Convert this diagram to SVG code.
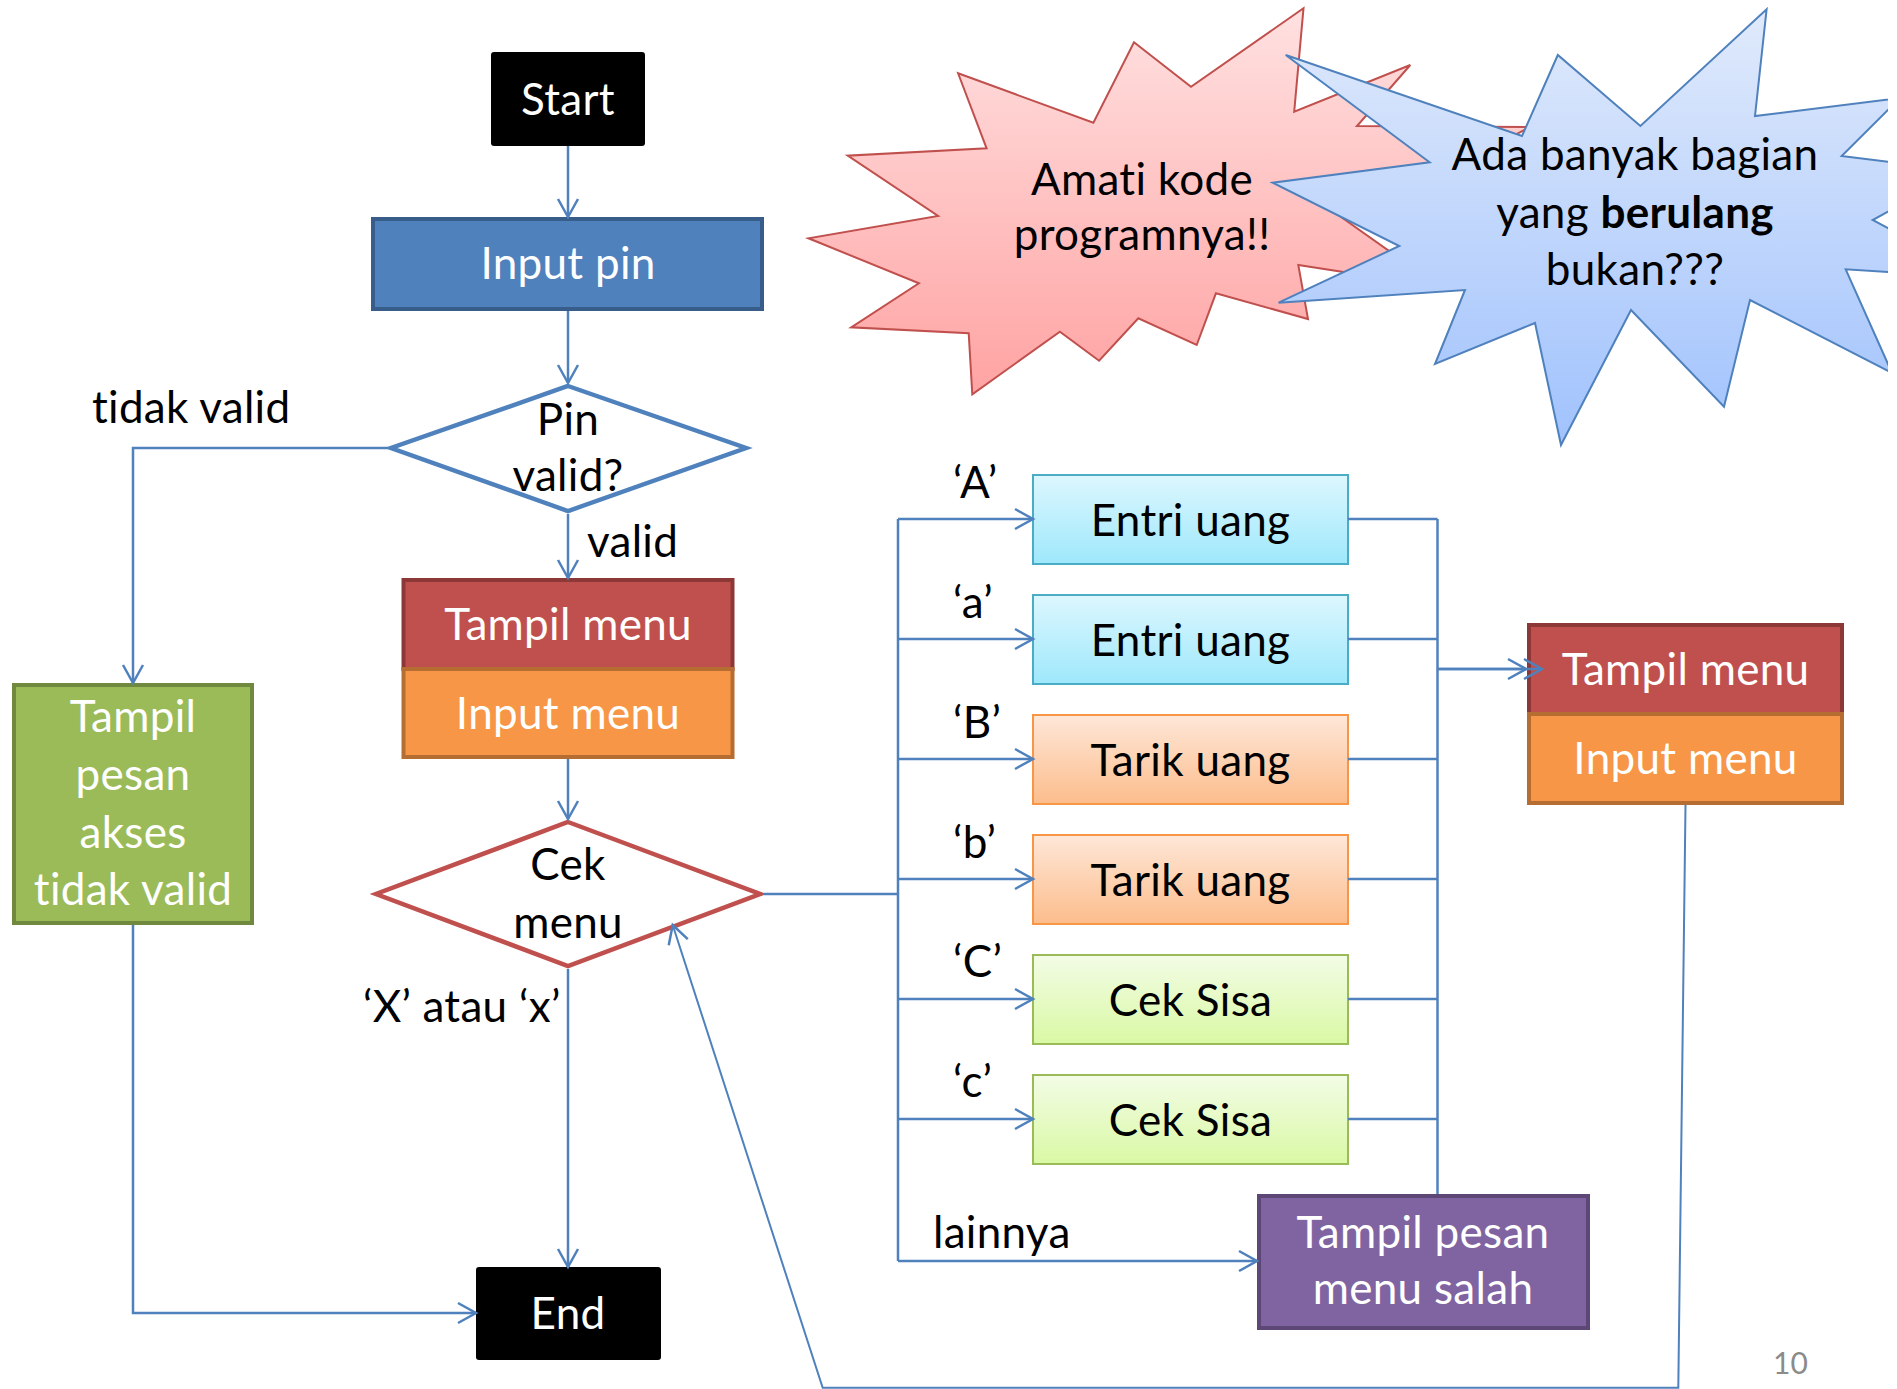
<svg xmlns="http://www.w3.org/2000/svg" width="1897" height="1389" viewBox="0 0 1897 1389">
<defs>
<style>
.t{font-family:Lato,"Liberation Sans",sans-serif;font-size:44px;letter-spacing:0.3px;text-anchor:middle;font-variant-ligatures:none}
.w{fill:#FFFFFF}
.k{fill:#000000}
.lbl{font-family:Lato,"Liberation Sans",sans-serif;font-size:44px;letter-spacing:0.3px;fill:#000000;font-variant-ligatures:none}
.c{fill:none;stroke:#4F81BD;stroke-width:2.5}
.c2{fill:none;stroke:#4F81BD;stroke-width:2}
.opt{stroke-width:2}
</style>
<marker id="arr" markerUnits="userSpaceOnUse" markerWidth="24" markerHeight="24" viewBox="-20 -12 24 24" refX="0" refY="0" orient="auto" overflow="visible">
<path d="M-18,-10 L0,0 L-18,10" fill="none" stroke="#4F81BD" stroke-width="2.5"/>
</marker>
<linearGradient id="gRed" x1="0" y1="0" x2="0" y2="1"><stop offset="0" stop-color="#FFE1E1"/><stop offset="1" stop-color="#FFA3A3"/></linearGradient>
<linearGradient id="gBlue" x1="0" y1="0" x2="0" y2="1"><stop offset="0" stop-color="#E0EAFB"/><stop offset="1" stop-color="#A0C2FD"/></linearGradient>
<linearGradient id="gCyan" x1="0" y1="0" x2="0" y2="1"><stop offset="0" stop-color="#DDF7FE"/><stop offset="1" stop-color="#9EE8FC"/></linearGradient>
<linearGradient id="gOrange" x1="0" y1="0" x2="0" y2="1"><stop offset="0" stop-color="#FEE7D8"/><stop offset="1" stop-color="#FCBD8C"/></linearGradient>
<linearGradient id="gGreen" x1="0" y1="0" x2="0" y2="1"><stop offset="0" stop-color="#F3FCE6"/><stop offset="1" stop-color="#D9F9A4"/></linearGradient>
<clipPath id="slideClip"><rect x="0" y="0" width="1888" height="1389"/></clipPath>
</defs>
<rect x="0" y="0" width="1897" height="1389" fill="#FFFFFF"/>

<g id="callout-amati">
<polygon points="1303.5,8.3 1294.2,111.7 1410.3,65 1357,126 1530,127 1420,185 1470,240 1310,195 1440,287 1298.3,265 1308,319 1215.9,293.3 1196.7,345 1138.3,318.3 1099.1,360.7 1059.9,331.7 972.3,394.3 968.7,333.3 851.2,327.3 918.9,283.3 808.5,238.3 938.1,216 847.7,155.7 986.6,148.3 958.1,73.3 1093.4,122.7 1134,42.3 1191,86.7" fill="url(#gRed)" stroke="#C0504D" stroke-width="2" stroke-linejoin="miter"/>
<text class="t k" x="1142" y="195">Amati kode</text>
<text class="t k" x="1142" y="250">programnya!!</text>
</g>

<g id="callout-berulang" clip-path="url(#slideClip)">
<polygon points="1285.7,55 1522,136 1557.8,55 1640.4,126 1766.6,9.3 1755,116 1900,98 1841.7,156 1963,171 1872.7,220 1982,278 1845.7,269.3 1892,373 1750,300 1724,406.7 1631,310 1561,445 1535,323 1435,364 1465,290 1278.6,302.7 1399.3,246 1272.7,182.7 1429.6,162.3" fill="url(#gBlue)" stroke="#4F81BD" stroke-width="2"/>
<text class="t k" x="1635" y="170">Ada banyak bagian</text>
<text class="t k" x="1635" y="228">yang <tspan font-weight="bold">berulang</tspan></text>
<text class="t k" x="1635" y="285">bukan???</text>
</g>

<g id="start">
<rect x="491" y="52" width="154" height="94" rx="3" fill="#000000"/>
<text class="t w" x="568" y="115">Start</text>
</g>
<g id="input-pin">
<rect x="373" y="219" width="389" height="90" fill="#4F81BD" stroke="#385D8A" stroke-width="4"/>
<text class="t w" x="568" y="279">Input pin</text>
</g>
<g id="pin-valid">
<polygon points="568,386 746,448 568,511 391,448" fill="#FFFFFF" stroke="#4F81BD" stroke-width="4.5"/>
<text class="t k" x="568" y="435">Pin</text>
<text class="t k" x="568" y="491">valid?</text>
</g>
<g id="tampil-pesan-akses">
<rect x="14" y="685" width="238" height="238" fill="#9BBB59" stroke="#71893F" stroke-width="4"/>
<text class="t w" x="133" y="732">Tampil</text>
<text class="t w" x="133" y="790">pesan</text>
<text class="t w" x="133" y="848">akses</text>
<text class="t w" x="133" y="905">tidak valid</text>
</g>
<g id="menu-1">
<rect x="403.5" y="580" width="329" height="89" fill="#C0504D" stroke="#8C3836" stroke-width="4"/>
<rect x="403.5" y="669" width="329" height="88" fill="#F79646" stroke="#B66D31" stroke-width="4"/>
<text class="t w" x="568" y="640">Tampil menu</text>
<text class="t w" x="568" y="729">Input menu</text>
</g>
<g id="cek-menu">
<polygon points="568,822 760,894 568,966 376,894" fill="#FFFFFF" stroke="#C0504D" stroke-width="4.5"/>
<text class="t k" x="568" y="880">Cek</text>
<text class="t k" x="568" y="938">menu</text>
</g>
<g id="end">
<rect x="476" y="1267" width="185" height="93" rx="3" fill="#000000"/>
<text class="t w" x="568" y="1329">End</text>
</g>
<g id="entri-A">
<rect class="opt" x="1033" y="475" width="315" height="89" fill="url(#gCyan)" stroke="#4BACC6"/>
<text class="t k" x="1190.5" y="536">Entri uang</text>
</g>
<g id="entri-a">
<rect class="opt" x="1033" y="595" width="315" height="89" fill="url(#gCyan)" stroke="#4BACC6"/>
<text class="t k" x="1190.5" y="656">Entri uang</text>
</g>
<g id="tarik-B">
<rect class="opt" x="1033" y="715" width="315" height="89" fill="url(#gOrange)" stroke="#F79646"/>
<text class="t k" x="1190.5" y="776">Tarik uang</text>
</g>
<g id="tarik-b">
<rect class="opt" x="1033" y="835" width="315" height="89" fill="url(#gOrange)" stroke="#F79646"/>
<text class="t k" x="1190.5" y="896">Tarik uang</text>
</g>
<g id="cek-C">
<rect class="opt" x="1033" y="955" width="315" height="89" fill="url(#gGreen)" stroke="#9BBB59"/>
<text class="t k" x="1190.5" y="1016">Cek Sisa</text>
</g>
<g id="cek-c">
<rect class="opt" x="1033" y="1075" width="315" height="89" fill="url(#gGreen)" stroke="#9BBB59"/>
<text class="t k" x="1190.5" y="1136">Cek Sisa</text>
</g>
<g id="menu-2">
<rect x="1529" y="625" width="313" height="89" fill="#C0504D" stroke="#8C3836" stroke-width="4"/>
<rect x="1529" y="714" width="313" height="89" fill="#F79646" stroke="#B66D31" stroke-width="4"/>
<text class="t w" x="1685.5" y="685">Tampil menu</text>
<text class="t w" x="1685.5" y="774">Input menu</text>
</g>
<g id="menu-salah">
<rect x="1259" y="1196" width="329" height="132" fill="#8064A2" stroke="#5C4776" stroke-width="4"/>
<text class="t w" x="1423" y="1248">Tampil pesan</text>
<text class="t w" x="1423" y="1304">menu salah</text>
</g>

<g id="connectors">
<path class="c" d="M568,146 V217" marker-end="url(#arr)"/>
<path class="c" d="M568,311 V383" marker-end="url(#arr)"/>
<path class="c" d="M388,448 H133 V683" marker-end="url(#arr)"/>
<path class="c" d="M568,514 V578" marker-end="url(#arr)"/>
<path class="c" d="M568,759 V819" marker-end="url(#arr)"/>
<path class="c" d="M568,969 V1267" marker-end="url(#arr)"/>
<path class="c" d="M133,925 V1313 H476" marker-end="url(#arr)"/>
<path class="c" d="M764,894 H898" stroke-width="3"/>
<path class="c" d="M898,519 V1261" stroke-width="3"/>
<path class="c" d="M898,519 H1033" marker-end="url(#arr)"/>
<path class="c" d="M898,639 H1033" marker-end="url(#arr)"/>
<path class="c" d="M898,759 H1033" marker-end="url(#arr)"/>
<path class="c" d="M898,879 H1033" marker-end="url(#arr)"/>
<path class="c" d="M898,999 H1033" marker-end="url(#arr)"/>
<path class="c" d="M898,1119 H1033" marker-end="url(#arr)"/>
<path class="c" d="M898,1261 H1257" marker-end="url(#arr)"/>
<path class="c" d="M1348,519 H1437.5 M1348,639 H1437.5 M1348,759 H1437.5 M1348,879 H1437.5 M1348,999 H1437.5 M1348,1119 H1437.5"/>
<path class="c" d="M1437.5,519 V1194" stroke-width="3"/>
<path class="c" d="M1437.5,669 H1526" stroke-width="3" marker-end="url(#arr)"/>
<path class="c" d="M1437.5,669 H1542" stroke-width="3" marker-end="url(#arr)"/>
<path class="c2" d="M1685.5,805 L1678.3,1387.8 H822.7 L672.7,925" marker-end="url(#arr)"/>
</g>

<g id="labels">
<text class="lbl" x="92" y="423">tidak valid</text>
<text class="lbl" x="587" y="557">valid</text>
<text class="lbl" x="363" y="1022">‘X’ atau ‘x’</text>
<text class="lbl" x="953" y="498">‘A’</text>
<text class="lbl" x="953" y="618">‘a’</text>
<text class="lbl" x="953" y="738">‘B’</text>
<text class="lbl" x="953" y="858">‘b’</text>
<text class="lbl" x="953" y="977">‘C’</text>
<text class="lbl" x="953" y="1097">‘c’</text>
<text class="lbl" x="933" y="1248">lainnya</text>
<text x="1773" y="1374" font-family="Lato,'Liberation Sans',sans-serif" font-size="30" fill="#8B8B8B">10</text>
</g>
</svg>
